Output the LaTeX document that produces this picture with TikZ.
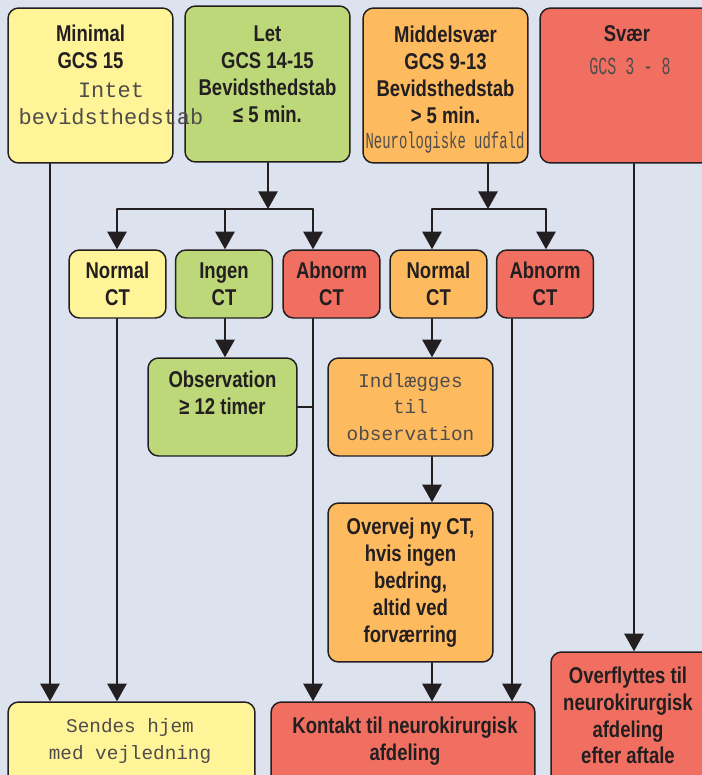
\documentclass[tikz,border=0pt]{standalone}
\usepackage{fontspec}
\setmainfont{Liberation Sans}
\setmonofont{Liberation Mono}
\newfontfamily\condfont{Liberation Sans}[FakeStretch=0.81]
\newfontfamily\condmono{Liberation Mono}[FakeStretch=0.61]
\usetikzlibrary{arrows.meta}
\definecolor{bg}{RGB}{220,226,238}
\definecolor{ink}{RGB}{35,31,32}
\definecolor{yel}{RGB}{255,245,152}
\definecolor{grn}{RGB}{189,216,120}
\definecolor{org}{RGB}{253,186,94}
\definecolor{rd}{RGB}{241,111,96}
\tikzset{
  box/.style={draw=ink, line width=0.85pt, rounded corners=6pt, inner sep=0pt},
  boldtxt/.style={font=\condfont\bfseries\fontsize{13}{15.3}\selectfont, align=center, text=ink, inner sep=0pt},
  monotxt/.style={font=\ttfamily\fontsize{11}{15.3}\selectfont, align=center, text=ink!80, inner sep=0pt},
  arr/.style={draw=ink, line width=0.8pt, -{Triangle[length=10pt,width=11pt]}},
  wire/.style={draw=ink, line width=0.8pt},
}
\begin{document}
\begin{tikzpicture}[line cap=round, line join=round, x=0.02cm, y=-0.02cm]
                \clip (0,0) rectangle (702,775);
                \fill[bg] (0,0) rectangle (702,775);
                % top row
                \node[box, fill=yel, minimum width=3.3cm, minimum height=3.1cm] (minimal) at (90.5,85.5) {};
                \node[box, fill=grn, minimum width=3.3cm, minimum height=3.12cm] (let) at (267.5,84) {};
                \node[box, fill=org, minimum width=3.3cm, minimum height=3.1cm] (middel) at (445.5,85.5) {};
                \node[box, fill=rd, minimum width=3.44cm, minimum height=3.1cm] (svaer) at (626,85.5) {};
                \node[boldtxt, anchor=north] (minimaltxt) at (90.5,24.5) {Minimal\\GCS 15};
                \node[monotxt, font=\ttfamily\fontsize{12.5}{15.3}\selectfont, anchor=north] (minimalmono) at (111,83) {Intet\\bevidsthedstab};
                \node[boldtxt, anchor=north] (lettxt) at (267.5,25.5) {Let\\GCS 14-15\\Bevidsthedstab\\≤ 5 min.};
                \node[boldtxt, anchor=north] (middeltxt) at (445.5,25.5) {Middelsvær\\GCS 9-13\\Bevidsthedstab\\> 5 min.};
                \node[monotxt, font=\condmono\fontsize{13}{15}\selectfont] (middelmono) at (445,143) {Neurologiske udfald};
                \node[boldtxt] (svaertxt) at (627,34) {Svær};
                \node[monotxt, font=\condmono\fontsize{14}{15}\selectfont] (svaermono) at (630,66) {GCS 3 - 8};
                % CT row
                \node[box, fill=yel, minimum width=1.94cm, minimum height=1.36cm, boldtxt] (normal1) at (117.5,284) {Normal\\CT};
                \node[box, fill=grn, minimum width=1.94cm, minimum height=1.36cm, boldtxt] (ingen) at (224,284) {Ingen\\CT};
                \node[box, fill=rd, minimum width=1.94cm, minimum height=1.36cm, boldtxt] (abnorm1) at (331.5,284) {Abnorm\\CT};
                \node[box, fill=org, minimum width=1.94cm, minimum height=1.36cm, boldtxt] (normal2) at (438.5,284) {Normal\\CT};
                \node[box, fill=rd, minimum width=1.94cm, minimum height=1.36cm, boldtxt] (abnorm2) at (545,284) {Abnorm\\CT};
                % observation row
                \node[box, fill=grn, minimum width=2.98cm, minimum height=1.96cm] (observation) at (222.5,407) {};
                \node[boldtxt, anchor=north] (observationtxt) at (222.5,370.5) {Observation\\≥ 12 timer};
                \node[box, fill=org, minimum width=3.3cm, minimum height=1.96cm, monotxt] (indlaegges) at (410.5,407) {Indlægges\\til\\observation};
                \node[box, fill=org, minimum width=3.3cm, minimum height=3.18cm, boldtxt] (overvej) at (410.5,582.5) {Overvej ny CT,\\hvis ingen\\bedring,\\altid ved\\forværring};
                % bottom row
                \node[box, fill=rd, minimum width=3.22cm, minimum height=2.76cm] (overflyttes) at (631.5,721) {};
                \node[boldtxt] (overflyttestxt) at (628,715.5) {Overflyttes til\\neurokirurgisk\\afdeling\\efter aftale};
                \node[box, fill=yel, minimum width=4.94cm, minimum height=1.76cm] (sendes) at (131.5,746) {};
                \node[monotxt] (sendestxt) at (130,741) {Sendes hjem\\med vejledning};
                \node[box, fill=rd, minimum width=5.28cm, minimum height=1.76cm] (kontakt) at (403,746) {};
                \node[boldtxt] (kontakttxt) at (405,741) {Kontakt til neurokirurgisk\\afdeling};
                % columns of the connectors
                \foreach \name/\xx in {colA/50, colB/117, colC/225, colD/313, colE/432, colF/512, colG/546, colH/634}
                    \coordinate (\name) at (\xx,0);
                \coordinate (letsplit) at (268,209);
                \coordinate (middelsplit) at (488,209);
                % connectors
                \draw[arr] (let.south -| letsplit) -- (letsplit);
                \draw[wire] (letsplit -| colB) -- (letsplit -| colD);
                \foreach \target/\col in {normal1/colB, ingen/colC, abnorm1/colD}
                    \draw[arr] (letsplit -| \col) -- (\target.north -| \col);
                \draw[arr] (middel.south -| middelsplit) -- (middelsplit);
                \draw[wire] (middelsplit -| colE) -- (middelsplit -| colG);
                \foreach \target/\col in {normal2/colE, abnorm2/colG}
                    \draw[arr] (middelsplit -| \col) -- (\target.north -| \col);
                \draw[arr] (minimal.south -| colA) -- (sendes.north -| colA);
                \draw[arr] (normal1.south -| colB) -- (sendes.north -| colB);
                \draw[arr] (ingen.south -| colC) -- (observation.north -| colC);
                \draw[arr] (abnorm1.south -| colD) -- (kontakt.north -| colD);
                \draw[wire] (observation.east) -- (observation.east -| colD);
                \draw[arr] (normal2.south -| colE) -- (indlaegges.north -| colE);
                \draw[arr] (indlaegges.south -| colE) -- (overvej.north -| colE);
                \draw[arr] (overvej.south -| colE) -- (kontakt.north -| colE);
                \draw[arr] (abnorm2.south -| colF) -- (kontakt.north -| colF);
                \draw[arr] (svaer.south -| colH) -- (overflyttes.north -| colH);
\end{tikzpicture}
\end{document}
